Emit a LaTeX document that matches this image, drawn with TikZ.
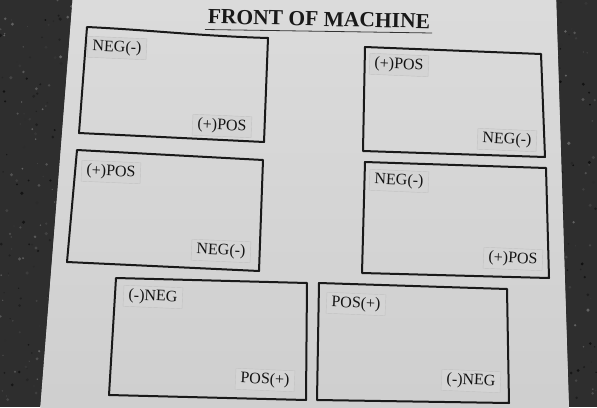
\documentclass[tikz,border=0pt]{standalone}
\usepackage{fontspec}
\setmainfont{Liberation Serif}
\begin{document}
\begin{tikzpicture}[x=1pt,y=-1pt,
  boxline/.style={draw=black!90,line width=2pt,line join=round},
  lbl/.style={fill=black!17,draw=black!24,line width=0.4pt,inner sep=0pt,
    minimum width=59pt,minimum height=21pt,text=black!92,
    font=\fontsize{16}{17}\selectfont,rotate=-2.5},
  ttl/.style={inner sep=0pt,text=black!90,font=\fontsize{21.5}{23}\selectfont\bfseries,rotate=-1.2}]
\useasboundingbox (0,0) rectangle (597,407);
% dark background
\fill[black!82] (0,0) rectangle (597,407);
\pgfmathsetseed{7}
\foreach \i in {1,...,1400}{
  \pgfmathsetmacro{\px}{rnd*597}
  \pgfmathsetmacro{\py}{rnd*407}
  \pgfmathsetmacro{\pr}{0.5+rnd*1.3}
  \pgfmathsetmacro{\pg}{60+rnd*35}
  \fill[black!\pg] (\px,\py) circle (\pr);
}
% paper
\fill[black!16] (73.2,-6) -- (555.8,-6) -- (569.2,415) -- (39.7,415) -- cycle;
\shade[top color=black!14,bottom color=black!19] (73,-6) -- (556,-6) -- (569,415) -- (40,415) -- cycle;
% title
\node[ttl] (title) at (319,19) {FRONT OF MACHINE};
\draw[black!80,line width=0.8pt] (205,29.5) -- (432,33);
% boxes
\draw[boxline] (87,27) .. controls (150,30) and (200,36) .. (268,38) -- (264,142) -- (79,133) -- cycle;
\draw[boxline] (77,150) -- (263,160) -- (259,271) -- (67,262) -- cycle;
\draw[boxline] (116,278) -- (307,283) -- (306,400) -- (109,395) -- cycle;
\draw[boxline] (365,47) -- (541,54) -- (545,157) -- (363,151) -- cycle;
\draw[boxline] (365,162) -- (546,168) -- (549,278) -- (362,273) -- cycle;
\draw[boxline] (319,283) -- (507,289) -- (509,403) -- (317,400) -- cycle;
% labels
\node[lbl] (b1a) at (117,48) {NEG(-)};
\node[lbl] (b1b) at (222,126) {(+)POS};
\node[lbl] (b2a) at (111,172) {(+)POS};
\node[lbl] (b2b) at (221,251) {NEG(-)};
\node[lbl] (b3a) at (153,297) {(-)NEG};
\node[lbl] (b3b) at (265,380) {POS(+)};
\node[lbl] (b4a) at (399,65) {(+)POS};
\node[lbl] (b4b) at (507,140) {NEG(-)};
\node[lbl] (b5a) at (399,181) {NEG(-)};
\node[lbl] (b5b) at (513,259) {(+)POS};
\node[lbl] (b6a) at (356,304) {POS(+)};
\node[lbl] (b6b) at (471,381) {(-)NEG};
\end{tikzpicture}
\end{document}
